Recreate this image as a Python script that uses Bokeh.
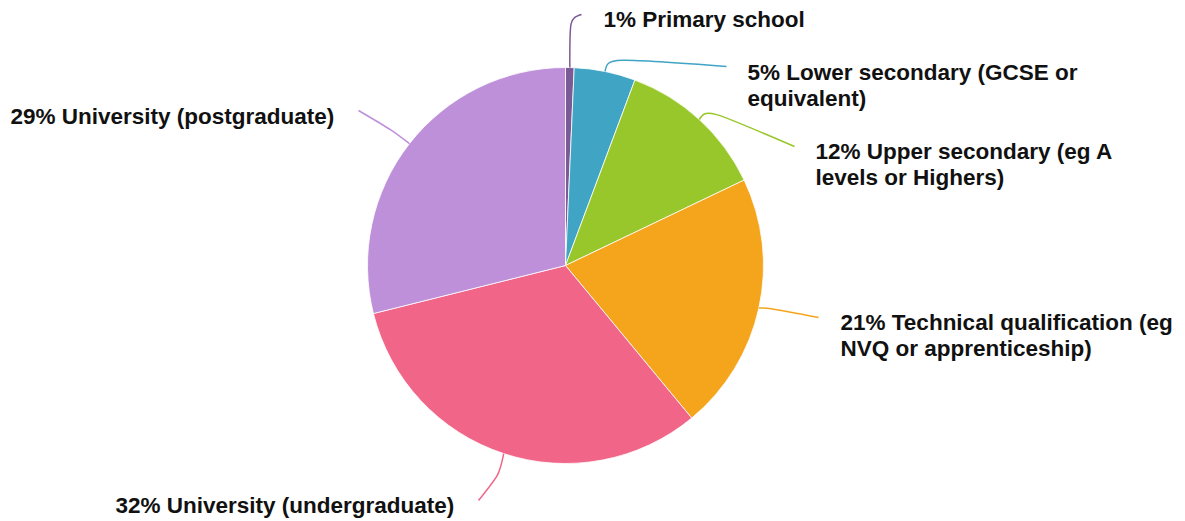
import math
from bokeh.plotting import figure
from bokeh.models import Range1d, ColumnDataSource
from bokeh.core.properties import value
from bokeh.embed import file_html
from bokeh.resources import INLINE

# ---- data ----
categories = ["Primary school", "Lower secondary (GCSE or equivalent)",
              "Upper secondary (eg A levels or Highers)",
              "Technical qualification (eg NVQ or apprenticeship)",
              "University (undergraduate)", "University (postgraduate)"]
shares = [0.7, 5.0, 12.2, 21.1, 32.1, 28.9]
pct_labels = ["1%", "5%", "12%", "21%", "32%", "29%"]
label_lines = [["1% Primary school"],
               ["5% Lower secondary (GCSE or", "equivalent)"],
               ["12% Upper secondary (eg A", "levels or Highers)"],
               ["21% Technical qualification (eg", "NVQ or apprenticeship)"],
               ["32% University (undergraduate)"],
               ["29% University (postgraduate)"]]
colors = ["#7b5b96", "#40a4c4", "#97c72a", "#f5a51c", "#f06588", "#be90da"]

# ---- layout (pixel space of the page) ----
CX, CY, R = 565, 265, 198
label_pos = [(603, 19), (747, 71.5), (815, 150.5), (840, 321.5), (115, 504.5), (10, 115.5)]
line_height = 26.5
leader_elbow = [(569, 18), (607, 57), (706, 108), (765, 307), (499, 474), (392, 130)]
leader_end = [(581, 14), (726, 66), (794, 146), (818, 317), (478, 500), (358, 110)]

W, H = 1185, 521
p = figure(width=W, height=H, output_backend="svg", toolbar_location=None,
           x_range=Range1d(0, W), y_range=Range1d(-H, 0),
           min_border=0)
p.axis.visible = False
p.grid.visible = False
p.outline_line_color = None

total = sum(shares)
cum = 0.0
starts, ends, mids = [], [], []
for s in shares:
    a0 = cum / total * 2 * math.pi
    cum += s
    a1 = cum / total * 2 * math.pi
    starts.append(math.pi / 2 - a1)
    ends.append(math.pi / 2 - a0)
    mids.append((a0 + a1) / 2)

src = ColumnDataSource(dict(start=starts, end=ends, color=colors, cat=categories))
p.wedge(x=CX, y=-CY, radius=R, start_angle="start", end_angle="end",
        fill_color="color", line_color="white", line_width=0.8, source=src)

# leader lines
for i, m in enumerate(mids):
    sx = CX + R * math.sin(m)
    sy = CY - R * math.cos(m)
    ex, ey = leader_elbow[i]
    tx, ty = leader_end[i]
    p.bezier(x0=[sx], y0=[-sy], x1=[tx], y1=[-ty], cx0=[ex], cy0=[-ey],
             cx1=[ex], cy1=[-ey], line_color=colors[i], line_width=1.5)

# labels
for i, lines in enumerate(label_lines):
    lx, ly = label_pos[i]
    for j, t in enumerate(lines):
        p.text(x=[lx], y=[-(ly + j * line_height)], text=[t],
               text_font=value("Liberation Sans"), text_font_style="bold",
               text_font_size="22.5px", text_color="#111111",
               text_baseline="middle", text_align="left")

open("out.html", "w").write(file_html(p, INLINE))
